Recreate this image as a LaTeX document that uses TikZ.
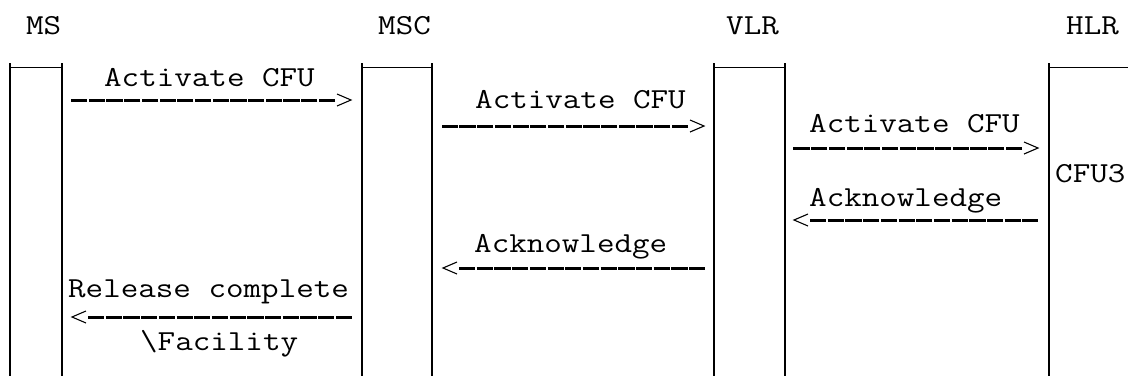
\documentclass[tikz,border=0pt]{standalone}
\usepackage{graphicx}
\begin{document}
\newcommand\cmono[1]{\scalebox{1.175}[1]{#1}}
\tikzset{
  life/.style={line width=2.4pt},
  boxtop/.style={line width=1pt},
  msg/.style={line width=3pt, dash pattern=on 16.2pt off 1.5pt},
  chev/.style={line width=1.1pt},
  lbl/.style={font=\ttfamily\fontsize{29}{29}\selectfont, inner sep=0pt, anchor=base west},
}
\begin{tikzpicture}[x=1pt,y=-1pt]
\useasboundingbox (0,0) rectangle (1128,376);
\fill[white] (0,0) rectangle (1128,376);

% headers
\node[lbl] (hms)  at (26,34)   {\cmono{MS}};
\node[lbl] (hmsc) at (378,34)  {\cmono{MSC}};
\node[lbl] (hvlr) at (726,34)  {\cmono{VLR}};
\node[lbl] (hhlr) at (1066,34) {\cmono{HLR}};

% lifeline coordinates
\coordinate (msLt) at (10,63);   \coordinate (msLb) at (10,376);
\coordinate (msRt) at (62,63);   \coordinate (msRb) at (62,376);
\coordinate (mscLt) at (362,63); \coordinate (mscLb) at (362,376);
\coordinate (mscRt) at (432,63); \coordinate (mscRb) at (432,376);
\coordinate (vlrLt) at (714,63); \coordinate (vlrLb) at (714,376);
\coordinate (vlrRt) at (785,63); \coordinate (vlrRb) at (785,376);
\coordinate (hlrLt) at (1049,63); \coordinate (hlrLb) at (1049,376);
\coordinate (hlrR) at (1128,67);

\draw[life] (msLt) -- (msLb);
\draw[life] (msRt) -- (msRb);
\draw[life] (mscLt) -- (mscLb);
\draw[life] (mscRt) -- (mscRb);
\draw[life] (vlrLt) -- (vlrLb);
\draw[life] (vlrRt) -- (vlrRb);
\draw[life] (hlrLt) -- (hlrLb);

\draw[boxtop] (10,67) -- (62,67);
\draw[boxtop] (362,67) -- (432,67);
\draw[boxtop] (714,67) -- (785,67);
\draw[boxtop] (1049,67) -- (hlrR);

% message end points (s = sender side, e = chevron side)
\coordinate (m1s) at (71,100);   \coordinate (m1e) at (335,100);
\coordinate (m2s) at (441,126);  \coordinate (m2e) at (688,126);
\coordinate (m3s) at (793,148);  \coordinate (m3e) at (1022,148);
\coordinate (m4s) at (1038,220); \coordinate (m4e) at (810,220);
\coordinate (m5s) at (705,268);  \coordinate (m5e) at (459,268);
\coordinate (m6s) at (352,317);  \coordinate (m6e) at (88,317);

% rightward messages (dash pattern starts at the chevron end)
\draw[msg] (m1e) -- (m1s);
\draw[chev] (m1e) ++(2,-6) -- ++(14,6) -- ++(-14,6);
\draw[msg] (m2e) -- (m2s);
\draw[chev] (m2e) ++(2,-6) -- ++(14,6) -- ++(-14,6);
\draw[msg] (m3e) -- (m3s);
\draw[chev] (m3e) ++(2,-6) -- ++(14,6) -- ++(-14,6);

% leftward messages
\draw[msg] (m4e) -- (m4s);
\draw[chev] (m4e) ++(-2,-6) -- ++(-14,6) -- ++(14,6);
\draw[msg] (m5e) -- (m5s);
\draw[chev] (m5e) ++(-2,-6) -- ++(-14,6) -- ++(14,6);
\draw[msg] (m6e) -- (m6s);
\draw[chev] (m6e) ++(-2,-6) -- ++(-14,6) -- ++(14,6);

% labels
\node[lbl] (l1) at (104,86)  {\cmono{Activate CFU}};
\node[lbl] (l2) at (475,108) {\cmono{Activate CFU}};
\node[lbl] (l3) at (809,132) {\cmono{Activate CFU}};
\node[lbl] (l4) at (1055,182) {\cmono{CFU3}};
\node[lbl] (l5) at (809,206) {\cmono{Acknowledge}};
\node[lbl] (l6) at (474,252) {\cmono{Acknowledge}};
\node[lbl] (l7) at (68,297)  {\cmono{Release complete}};
\node[lbl] (l8) at (140,350) {\cmono{\textbackslash Facility}};
\end{tikzpicture}
\end{document}
